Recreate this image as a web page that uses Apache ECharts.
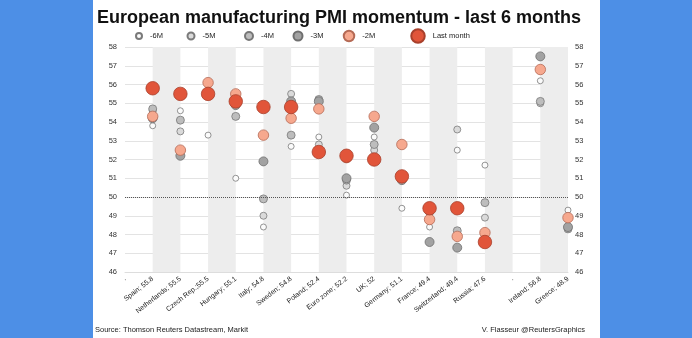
<!DOCTYPE html>
<html>
<head>
<meta charset="utf-8">
<script src="https://cdn.jsdelivr.net/npm/echarts@6/dist/echarts.min.js"></script>
<style>
html,body{margin:0;padding:0;}
#c{width:692px;height:338px;background:linear-gradient(to right,#4d8fe6 0,#4d8fe6 93px,#ffffff 93px,#ffffff 600px,#4d8fe6 600px,#4d8fe6 692px);}
</style>
</head>
<body>
<div id="c"></div>
<script>
var categories = ['.', 'Spain; 55.8', 'Netherlands; 55.5', 'Czech Rep.;55.5', 'Hungary; 55.1', 'Italy; 54.8', 'Sweden; 54.8', 'Poland; 52.4', 'Euro zone; 52.2', 'UK; 52', 'Germany; 51.1', 'France; 49.4', 'Switzerland; 49.4', 'Russia; 47.6', '.', 'Ireland; 56.8', 'Greece; 48.9'];
var seriesNames = ['-6M', '-5M', '-4M', '-3M', '-2M', 'Last month'];
var m6 = [null, 53.8, 54.6, 53.3, 51.0, 48.4, 52.7, 53.2, 50.1, 53.2, 49.4, 48.4, 52.5, 51.7, null, 56.2, 49.3];
var m5 = [null, 54.6, 53.5, 55.4, 55.0, 49.0, 55.5, 52.8, 50.6, 52.5, 51.0, 49.3, 53.6, 48.9, null, 55.0, 48.9];
var m4 = [null, 54.7, 54.1, 55.5, 54.3, 49.9, 53.3, 55.2, 50.9, 52.8, 51.2, 49.2, 48.2, 49.7, null, 55.1, 48.3];
var m3 = [null, 54.2, 52.2, 55.6, 54.9, 51.9, 55.1, 55.1, 51.0, 53.7, 50.9, 47.6, 47.3, 47.6, null, 57.5, 48.4];
var m2 = [null, 54.3, 52.5, 56.1, 55.5, 53.3, 54.2, 54.7, 52.1, 54.3, 52.8, 48.8, 47.9, 48.1, null, 56.8, 48.9];
var last = [null, 55.8, 55.5, 55.5, 55.1, 54.8, 54.8, 52.4, 52.2, 52.0, 51.1, 49.4, 49.4, 47.6, null, null, null];
var yMin = 46, yMax = 58, yStep = 1;
var referenceLine = 50;

var values = [m6, m5, m4, m3, m2, last];
var sizes = [6, 7, 8, 9, 10.5, 13.5];
var fills = ['#fbfbfb', '#dadada', '#bdbdbd', '#a2a2a2', '#f6a88e', '#e1553a'];
var borders = ['#7a7a7a', '#7a7a7a', '#777777', '#6f6f6f', '#b56a55', '#a8402c'];
var legendX = [138, 190, 248, 297, 348, 417];

var font = '"Liberation Sans", Arial, sans-serif';
var chart = echarts.init(document.getElementById('c'), null, {renderer: 'canvas'});

var series = values.map(function (v, i) {
  var s = {
    name: seriesNames[i],
    type: 'scatter',
    data: v,
    symbol: 'circle',
    symbolSize: sizes[i],
    clip: false,
    itemStyle: {color: fills[i], borderColor: borders[i], borderWidth: 0.8, opacity: 1},
    emphasis: {disabled: true}
  };
  if (i === 0) {
    s.markLine = {
      silent: true, symbol: ['none', 'none'], label: {show: false},
      lineStyle: {color: '#555', type: 'dotted', width: 1},
      data: [{yAxis: referenceLine}]
    };
  }
  return s;
});

var legends = seriesNames.map(function (n, i) {
  return {
    data: [n], left: legendX[i] - sizes[i] / 2, top: 35 - sizes[i] / 2,
    itemWidth: sizes[i], itemHeight: sizes[i], itemGap: 0,
    padding: 0, selectedMode: false,
    textStyle: {fontSize: 7.5, color: '#222', fontFamily: font, padding: [0, 0, 0, 3]}
  };
});

var yAxisCommon = {
  type: 'value', min: yMin, max: yMax, interval: yStep,
  axisLine: {show: false}, axisTick: {show: false},
  axisLabel: {fontSize: 7.5, color: '#333', fontFamily: font, margin: 8}
};

chart.setOption({
  animation: false,
  legend: legends,
  grid: {left: 125, right: 124, top: 47, bottom: 66},
  xAxis: {
    type: 'category', data: categories, boundaryGap: false,
    axisLine: {show: true, lineStyle: {color: '#dddddd'}},
    axisTick: {show: false},
    axisLabel: {interval: 0, rotate: 38, fontSize: 7, color: '#1a1a1a', fontFamily: font, margin: 6},
    splitLine: {show: false},
    splitArea: {show: true, interval: 0, areaStyle: {color: ['rgba(255,255,255,0)', '#ededed']}}
  },
  yAxis: [
    Object.assign({}, yAxisCommon, {position: 'left', splitLine: {show: true, lineStyle: {color: '#e3e3e3', width: 1}}}),
    Object.assign({}, yAxisCommon, {position: 'right', splitLine: {show: false}, axisLabel: {fontSize: 7.5, color: '#333', fontFamily: font, margin: 7}})
  ],
  graphic: [
    {type: 'text', x: 339, y: 9, style: {text: 'European manufacturing PMI momentum - last 6 months', fill: '#111', font: 'bold 18px ' + font, textAlign: 'center'}},
    {type: 'text', x: 95, y: 326, style: {text: 'Source: Thomson Reuters Datastream, Markit', fill: '#222', font: '7.5px ' + font}},
    {type: 'text', x: 585, y: 326, style: {text: 'V. Flasseur @ReutersGraphics', fill: '#222', font: '7.5px ' + font, textAlign: 'right'}}
  ],
  series: series
});
</script>
</body>
</html>
